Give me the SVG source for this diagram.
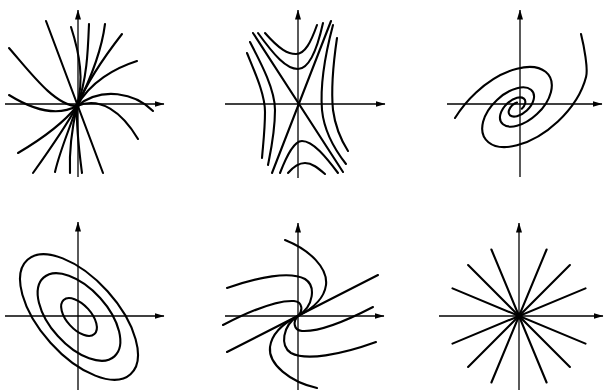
<svg xmlns="http://www.w3.org/2000/svg" width="606" height="390" viewBox="0 0 606 390">
<defs>
<marker id="arrow" viewBox="0 0 10 6" refX="9.5" refY="3" markerWidth="10" markerHeight="6" markerUnits="userSpaceOnUse" orient="auto"><path d="M0,0 L10,3 L0,6 z" fill="#000"/></marker>
</defs>
<style>
.axis{stroke:#000;stroke-width:1.3;fill:none;marker-end:url(#arrow)}
.traj{stroke:#000;stroke-width:2.1;fill:none;stroke-linecap:round}
.dot{fill:#000}
</style>
<rect width="606" height="390" fill="#fff"/>

<g id="panel-node">
  <g class="axes">
    <line class="axis" x1="5" y1="104" x2="164" y2="104"/>
    <line class="axis" x1="78" y1="177" x2="78" y2="10"/>
  </g>
  <g class="traj">
    <path d="M46,21 L103,173"/>
    <path d="M71,27 C80,55 84,80 77,106"/>
    <path d="M89,24 C88,50 87,80 77,106"/>
    <path d="M105,24 C102,48 91,78 77,106"/>
    <path d="M122,34 C108,52 88,80 77,106"/>
    <path d="M137,61 C115,68 90,82 77,106"/>
    <path d="M153,111 C135,93 102,86 77,106"/>
    <path d="M138,139 C122,112 100,96 77,106"/>
    <path d="M9,48 C30,72 55,106 77,106"/>
    <path d="M9,95 C30,108 55,118 77,106"/>
    <path d="M18,153 C40,140 62,125 77,106"/>
    <path d="M33,173 C48,152 65,128 77,106"/>
    <path d="M55,172 C60,150 70,128 77,106"/>
    <path d="M70,173 C69,150 72,128 77,106"/>
    <path d="M82,173 C79,150 76,128 77,106"/>
  </g>
  <circle class="dot" cx="77" cy="106" r="2.5"/>
</g>

<g id="panel-saddle">
  <g class="axes">
    <line class="axis" x1="225" y1="104" x2="385" y2="104"/>
    <line class="axis" x1="298" y1="178" x2="298" y2="10"/>
  </g>
  <g class="traj">
    <path d="M253,33 L343,172"/>
    <path d="M331,21 L272,173"/>
    <path d="M265,33 C280,50 288,54 296,54 C305,54 311,42 317,25"/>
    <path d="M258,33 C274,55 286,69 298,69 C309,69 317,50 323,23"/>
    <path d="M288,173 C294,166 299,163 305,163 C312,163 318,168 325,174"/>
    <path d="M280,173 C287,155 294,141 302,141 C313,141 326,157 338,173"/>
    <path d="M247,53 C256,75 265,95 265,112 C265,130 263,145 262,158"/>
    <path d="M250,42 C262,65 275,90 275,110 C275,132 271,150 268,165"/>
    <path d="M333,25 C325,55 320,85 322,110 C324,130 335,150 346,164"/>
    <path d="M337,38 C333,65 331,90 333,110 C335,125 341,140 348,151"/>
  </g>
</g>

<g id="panel-spiral">
  <g class="axes">
    <line class="axis" x1="447" y1="104" x2="602" y2="104"/>
    <line class="axis" x1="520" y1="177" x2="520" y2="10"/>
  </g>
  <g class="traj">
    <path d="M581,34 C584,46 588.2,68.7 586.1,76.8 C582.0,92.9 571.0,109.2 557.9,121.5 C544.8,133.8 529.7,142.0 517,145.3 C504.3,148.6 494.2,146.9 488.4,142.2 C482.6,137.5 481.1,129.7 483.1,121.8 C485.1,113.9 490.6,105.9 497.0,99.9 C503.4,93.9 510.8,89.8 517,88.2 C523.2,86.6 528.2,87.4 531.0,89.8 C533.8,92.1 534.6,95.9 533.6,99.8 C532.6,103.6 530.0,107.6 526.8,110.5 C523.7,113.5 520.0,115.4 517,116.2 C514.0,117.0 511.5,116.5 510.1,115.4 C508.7,114.3 508.4,112.5 508.9,110.6 C509.4,108.7 510.7,106.8 512.2,105.3 C513.8,103.9 515.5,102.9 517,102.5"/>
    <path d="M455,118 C460,110 469.5,98.6 476.1,92.5 C489.2,80.2 504.3,72.0 517,68.7 C529.7,65.4 539.8,67.1 545.6,71.8 C551.4,76.5 552.9,84.3 550.9,92.2 C548.9,100.1 543.4,108.1 537.0,114.1 C530.6,120.1 523.2,124.2 517,125.8 C510.8,127.4 505.8,126.5 503.0,124.2 C500.2,121.9 499.4,118.1 500.4,114.3 C501.4,110.4 504.1,106.5 507.2,103.5 C510.4,100.6 514.0,98.6 517,97.8 C520.0,97.0 522.5,97.5 523.9,98.6 C525.3,99.7 525.6,101.5 525.1,103.4 C524.6,105.3 523.4,107.3 521.8,108.7"/>
  </g>
</g>

<g id="panel-center">
  <g class="axes">
    <line class="axis" x1="5" y1="316" x2="164" y2="316"/>
    <line class="axis" x1="78" y1="390" x2="78" y2="222"/>
  </g>
  <g class="traj" transform="translate(79 317) rotate(48)">
    <ellipse cx="0" cy="0" rx="77" ry="38.4"/>
    <ellipse cx="0" cy="0" rx="53" ry="28.5"/>
    <ellipse cx="0" cy="0" rx="23" ry="12.2"/>
  </g>
</g>

<g id="panel-degenerate">
  <g class="axes">
    <line class="axis" x1="225" y1="316" x2="384" y2="316"/>
    <line class="axis" x1="298" y1="390" x2="298" y2="223"/>
  </g>
  <g class="traj">
    <path d="M227,352 L378,275"/>
    <path d="M285,240 C310,250 328,268 326,285 C324,300 310,310 298,316"/>
    <path d="M227,288 C258,277 290,271 305,279 C316,286 314,306 298,316"/>
    <path d="M223,325 C250,311 278,300 294,301 C303,302 303,311 298,316"/>
    <path d="M317,388 C290,382 268,364 270,347 C272,332 286,322 298,316"/>
    <path d="M376,342 C340,355 306,361 291,353 C280,346 282,326 298,316"/>
    <path d="M373,307 C346,321 318,332 302,331 C293,330 293,321 298,316"/>
  </g>
</g>

<g id="panel-star">
  <g class="axes">
    <line class="axis" x1="439" y1="316" x2="603" y2="316"/>
    <line class="axis" x1="519" y1="390" x2="519" y2="223"/>
  </g>
  <g class="traj">
    <path d="M452.5,288.4 L585.5,343.6"/>
    <path d="M468.1,265.1 L569.9,366.9"/>
    <path d="M491.4,249.5 L546.6,382.5"/>
    <path d="M585.5,288.4 L452.5,343.6"/>
    <path d="M569.9,265.1 L468.1,366.9"/>
    <path d="M546.6,249.5 L491.4,382.5"/>
  </g>
  <circle class="dot" cx="519" cy="316" r="3.5"/>
</g>
</svg>
